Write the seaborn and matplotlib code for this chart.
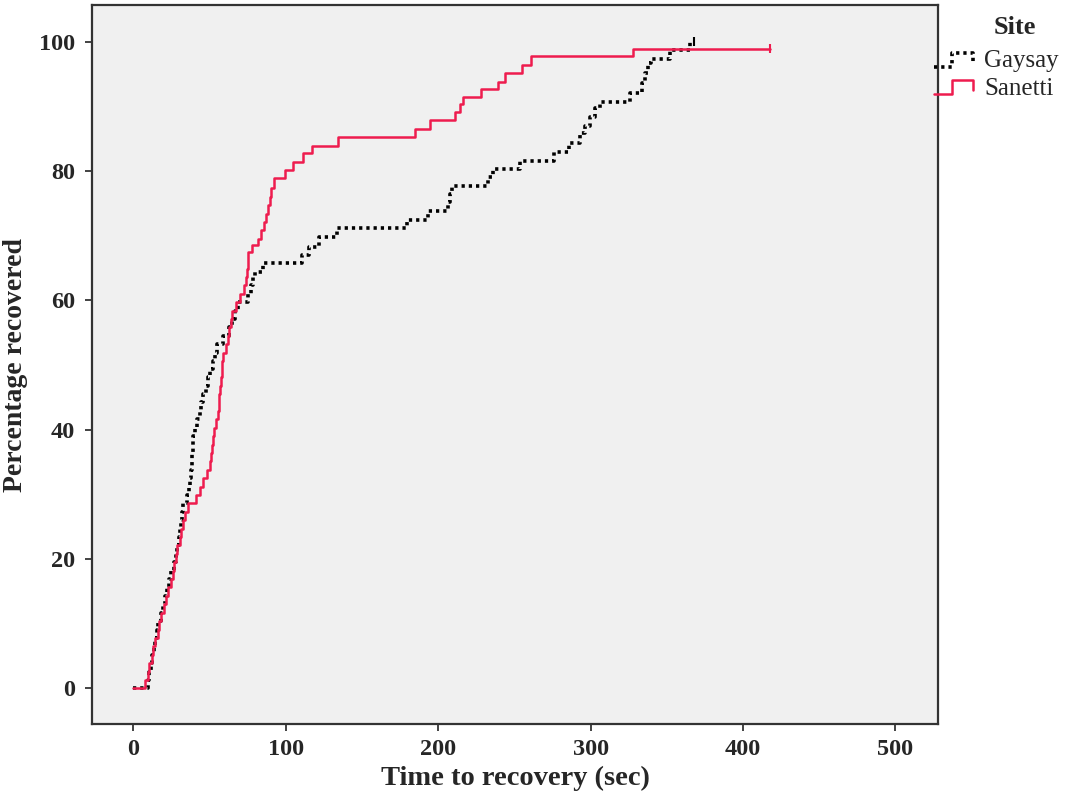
import numpy as np
import pandas as pd
import matplotlib
matplotlib.use("Agg")
import matplotlib.pyplot as plt
from matplotlib.lines import Line2D
from matplotlib.legend_handler import HandlerBase
import seaborn as sns

# Cumulative percentage of animals recovered, as step points (time in s, % recovered)
gaysay_time = [0, 9.6, 10.5, 11.5, 12.5, 13.5, 14.5, 15.5, 16.5, 18, 19.5, 21, 22,
               23.5, 25, 26.5, 28, 29, 30, 30.8, 31.5, 32, 32.8, 35, 36.5, 37.5, 38,
               38.3, 38.6, 39, 39.4, 40.5, 41.6, 43.5, 44.5, 46, 47.5, 49, 50.5, 52,
               53.5, 55, 59, 63, 64.5, 67, 68.6, 75.4, 77, 78.5, 80, 85.2, 111, 115,
               122, 133.4, 179.3, 193.4, 206.6, 208, 209, 232.8, 236, 253.6, 276,
               286, 292.9, 296.2, 299.5, 302.8, 306, 325.7, 333.4, 335.5, 337.7,
               339.9, 351.9, 365, 368]
gaysay_pct = [0, 1.3, 2.6, 3.9, 5.2, 6.5, 7.8, 9.1, 10.4, 11.7, 13, 14.3, 15.6,
              16.9, 18.2, 19.5, 20.8, 22.1, 23.4, 24.7, 26, 27.3, 28.6, 29.9, 31.2,
              32.5, 33.8, 35.1, 36.4, 37.7, 39, 40.3, 41.6, 42.9, 44.2, 45.5, 46.8,
              48.1, 49.4, 50.6, 51.9, 53.2, 54.5, 55.8, 57.1, 58.4, 59.7, 61, 62.3,
              63.6, 64.4, 65.7, 67, 68.2, 69.8, 71.1, 72.4, 73.8, 75.2, 76.5, 77.6,
              79.1, 80.3, 81.6, 82.9, 84.3, 85.8, 86.9, 88.4, 89.7, 90.7, 92, 93.6,
              95.1, 96.7, 97.3, 98.7, 100, 100]

sanetti_time = [0, 8, 9.5, 10.5, 12, 13, 14.5, 16, 17, 18.5, 20, 21.5, 23, 24.5,
                26, 27, 28, 29, 30.5, 31.5, 32.5, 34, 36, 41, 43.5, 46, 48.5, 50, 51,
                51.5, 52, 53, 54, 55.5, 56, 56.5, 57, 57.5, 58, 58.5, 59, 60.5, 62,
                63, 64, 65, 67.5, 70, 72.5, 74, 74.5, 75, 75.4, 78, 82, 84, 85.5, 87,
                88.5, 89.5, 90.5, 92.5, 99.5, 104.9, 111.5, 117, 134.4, 184.7,
                194.6, 211, 214, 216.5, 228.4, 239.3, 243.7, 254.7, 261.2, 327.9,
                417.5]
sanetti_pct = [0, 1.3, 2.6, 3.9, 5.2, 6.5, 7.8, 9.1, 10.4, 11.7, 13, 14.3, 15.6,
               16.9, 18.2, 19.5, 20.8, 22.1, 23.4, 24.7, 26, 27.3, 28.6, 29.9, 31.2,
               32.5, 33.8, 35.1, 36.4, 37.7, 39, 40.3, 41.6, 42.9, 44.2, 45.5, 46.8,
               48.1, 49.4, 50.6, 51.9, 53.2, 54.5, 55.8, 57.1, 58.4, 59.7, 61, 62.3,
               63.6, 64.9, 66.2, 67.5, 68.6, 69.5, 70.8, 72.1, 73.4, 74.7, 76, 77.3,
               78.9, 80.2, 81.4, 82.7, 83.9, 85.2, 86.5, 87.8, 89.1, 90.3, 91.5,
               92.6, 93.8, 95.1, 96.4, 97.7, 98.9, 98.9]

sites = ["Gaysay", "Sanetti"]
x_ticks = [0, 100, 200, 300, 400, 500]
y_ticks = [0, 20, 40, 60, 80, 100]

df = pd.concat([
    pd.DataFrame({"Time": gaysay_time, "Percent": gaysay_pct, "Site": "Gaysay"}),
    pd.DataFrame({"Time": sanetti_time, "Percent": sanetti_pct, "Site": "Sanetti"}),
], ignore_index=True)

sns.set_theme(style="white")
plt.rcParams["font.family"] = ["Liberation Serif", "DejaVu Serif"]

RED = "#EE1C4E"
dot_style = (0, (0.9, 1.1))
DOT_LW = 2.6
RED_LW = 1.8

fig = plt.figure(figsize=(10.67, 7.94), dpi=100)
fig.patch.set_facecolor("white")
ax = fig.add_axes([0.0862, 0.0882, 0.7929, 0.9051])
ax.set_facecolor("#F0F0F0")

sns.lineplot(data=df, x="Time", y="Percent", hue="Site", hue_order=sites,
             palette={"Gaysay": "black", "Sanetti": RED},
             estimator=None, sort=False, drawstyle="steps-post",
             legend=False, ax=ax)
gl, sl = ax.lines[0], ax.lines[1]
gl.set_linestyle(dot_style)
gl.set_linewidth(DOT_LW)
gl.set_zorder(3)
sl.set_linewidth(RED_LW)
sl.set_zorder(4)

# censored end points
ends = pd.DataFrame({"Time": [gaysay_time[-1], sanetti_time[-1]],
                     "Percent": [gaysay_pct[-1], sanetti_pct[-1]],
                     "Site": sites})
sns.scatterplot(data=ends, x="Time", y="Percent", hue="Site", hue_order=sites,
                palette={"Gaysay": "black", "Sanetti": RED}, marker="|",
                s=40, linewidth=1.5, legend=False, ax=ax, zorder=5)

ax.set_xlim(-27.1, 527.9)
ax.set_ylim(-5.5, 105.6)
ax.set_xticks(x_ticks)
ax.set_yticks(y_ticks)
ax.tick_params(axis="both", which="major", direction="out", length=5, width=1.2,
               color="#222222", labelsize=17.5, bottom=True, left=True)
ax.tick_params(axis="x", pad=6)
ax.tick_params(axis="y", pad=7)
for lab in ax.get_xticklabels() + ax.get_yticklabels():
    lab.set_fontweight("bold")

for sp in ax.spines.values():
    sp.set_visible(True)
    sp.set_color("#333333")
    sp.set_linewidth(1.6)

ax.set_xlabel("Time to recovery (sec)", fontsize=20.5, fontweight="bold", labelpad=4)
ax.set_ylabel("Percentage recovered", fontsize=20, fontweight="bold", labelpad=8)


class StepHandler(HandlerBase):
    def create_artists(self, legend, orig_handle, xdescent, ydescent,
                       width, height, fontsize, trans):
        xs = np.array([0.0, 0.4, 0.4, 0.86, 0.86]) * width - xdescent
        ys = np.array([0.05, 0.05, 0.85, 0.85, 0.3]) * height - ydescent
        line = Line2D(xs, ys)
        line.update_from(orig_handle)
        line.set_transform(trans)
        return [line]


fig.text(1015 / 1067, 1 - 28 / 794, "Site", fontsize=19, fontweight="bold",
         ha="center", va="center")
handles = [Line2D([], [], color="black", linestyle=dot_style, linewidth=DOT_LW),
           Line2D([], [], color=RED, linewidth=RED_LW)]
leg = fig.legend(handles, sites, loc="upper left",
                 bbox_to_anchor=(934 / 1067, 1 - 50 / 794),
                 frameon=False, fontsize=18,
                 handlelength=1.8, handletextpad=0.2, labelspacing=0.2,
                 borderpad=0, borderaxespad=0,
                 handler_map={Line2D: StepHandler()})

fig.savefig("out.png", dpi=100, facecolor="white")
